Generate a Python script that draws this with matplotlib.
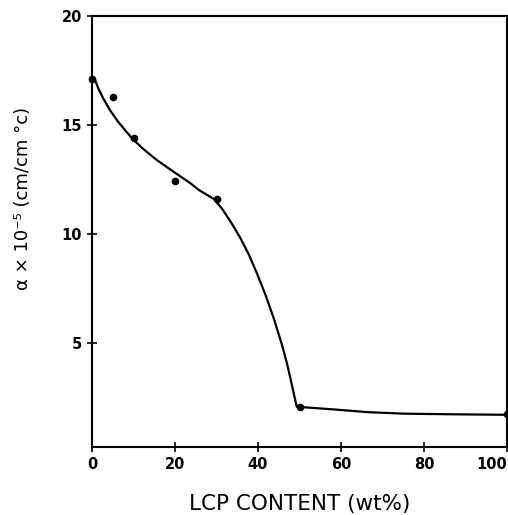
import numpy as np
import matplotlib.pyplot as plt

# Measured points (LCP content in wt%, thermal expansion coefficient x 1e5)
lcp = [0, 5, 10, 20, 30, 50, 100]
alpha = [17.1, 16.3, 14.4, 12.4, 11.6, 2.05, 1.7]

# Hand-drawn trend curve
curve_x = [0, 0.7, 1.5, 2.7, 4.3, 6.3, 8.3, 9.7, 12.3, 15.5, 19.45, 23.4, 25.8, 27.4,
           29.4, 31.4, 33.8, 35.8, 37.8, 39.8, 41.8, 43.8, 45.8, 47.0, 48.2, 49.0, 49.35,
           50, 58, 66.5, 75.4, 88, 100]
curve_y = [17.2, 17.07, 16.68, 16.22, 15.68, 15.14, 14.68, 14.37, 13.9, 13.4, 12.87, 12.36,
           12.0, 11.82, 11.59, 11.13, 10.43, 9.78, 9.04, 8.15, 7.19, 6.11, 4.88, 4.03, 3.02,
           2.33, 2.05, 2.04, 1.93, 1.8, 1.73, 1.7, 1.68]

fig = plt.figure(figsize=(5.08, 5.15), dpi=100)
ax = fig.add_axes([92/508, 1 - 447/515, (507 - 92)/508, (447 - 16)/515])

ax.plot(curve_x, curve_y, color="black", lw=1.6, clip_on=False, solid_joinstyle="round")
ax.scatter(lcp, alpha, s=20, color="black", zorder=3, clip_on=False)

ax.set_xlim(0, 100)
ax.set_ylim(0.2, 20)
ax.set_xticks([0, 20, 40, 60, 80, 100])
ax.set_yticks([5, 10, 15, 20])

for sp in ax.spines.values():
    sp.set_linewidth(1.5)
ax.tick_params(direction="inout", length=7, width=1.2, labelsize=10.5)
for lab in ax.get_xticklabels() + ax.get_yticklabels():
    lab.set_fontweight("bold")
# the "100" label sits inside the frame on the original
ax.get_xticklabels()[-1].set_horizontalalignment("right")

ax.set_xlabel("LCP CONTENT (wt%)", fontsize=15.5, labelpad=16)
fig.text(23/508, 1 - 198/515, "α × 10⁻⁵ (cm/cm °c)", rotation=90,
         ha="center", va="center", fontsize=13)

plt.savefig("out.png", dpi=100)
